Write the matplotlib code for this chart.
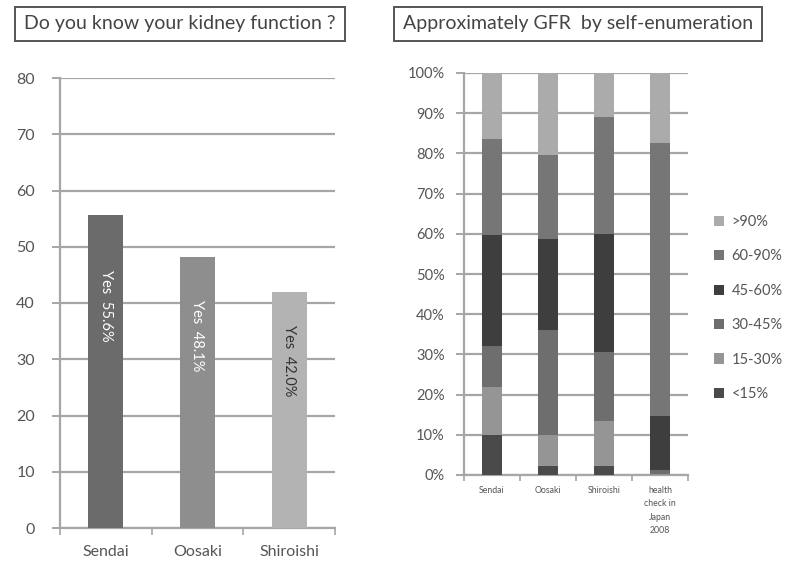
import matplotlib
matplotlib.use("Agg")
import matplotlib.pyplot as plt
import numpy as np

plt.rcParams['font.family'] = ['Lato', 'DejaVu Sans']

# ---- data ----
left_title = "Do you know your kidney function ?"
left_cats = ["Sendai", "Oosaki", "Shiroishi"]
left_vals = [55.6, 48.1, 42.0]
left_labels = ["Yes  55.6%", "Yes  48.1%", "Yes  42.0%"]
left_colors = ["#6b6b6b", "#8e8e8e", "#b3b3b3"]
left_text_colors = ["white", "white", "#333333"]

right_title = "Approximately GFR  by self-enumeration"
right_cats = ["Sendai", "Oosaki", "Shiroishi", "health\ncheck in\nJapan\n2008"]
gfr_bands = ["<15%", "15-30%", "30-45%", "45-60%", "60-90%", ">90%"]
gfr_lt15 = [10.0, 2.3, 2.3, 0.1]
gfr_15_30 = [12.0, 7.7, 11.2, 0.2]
gfr_30_45 = [10.0, 26.0, 17.0, 0.9]
gfr_45_60 = [27.7, 22.7, 29.5, 13.6]
gfr_60_90 = [23.8, 20.8, 29.0, 67.7]
gfr_gt90 = [16.5, 20.5, 11.0, 17.5]
gfr_colors = ["#4a4a4a", "#959595", "#6e6e6e", "#3e3e3e", "#767676", "#ababab"]

W, H = 795, 564
fig = plt.figure(figsize=(W / 100, H / 100), dpi=100)
fig.patch.set_facecolor("white")

def ax_rect(x0, y0, x1, y1):
    return [x0 / W, 1 - y1 / H, (x1 - x0) / W, (y1 - y0) / H]

grid_c = "#a6a6a6"
tick_c = "#555555"

# ---- left chart ----
axL = fig.add_axes(ax_rect(60, 78, 335, 528))
x = np.arange(len(left_cats))
axL.bar(x, left_vals, width=0.38, color=left_colors, zorder=3)
axL.set_xlim(-0.5, 2.5)
axL.set_ylim(0, 80)
axL.set_yticks(np.arange(0, 81, 10))
axL.yaxis.grid(True, color=grid_c, lw=1.6, zorder=0)
for s in ["top", "right"]:
    axL.spines[s].set_visible(False)
axL.spines["left"].set_color(grid_c)
axL.spines["left"].set_linewidth(1.6)
axL.spines["bottom"].set_color(grid_c)
axL.spines["bottom"].set_linewidth(1.6)
axL.tick_params(axis="y", length=6, color=grid_c, width=1.4, labelsize=11.5, labelcolor=tick_c, pad=12)
axL.set_xticks(x)
axL.set_xticklabels(left_cats, fontsize=11.5, color=tick_c)
axL.tick_params(axis="x", length=0, pad=12)
axL.set_xticks(np.arange(-0.5, 3, 1), minor=True)
axL.tick_params(axis="x", which="minor", length=5, color=grid_c, width=1.2)
for xi, v, lab, tc in zip(x, left_vals, left_labels, left_text_colors):
    axL.text(xi, v * 0.71, lab, rotation=270, ha="center", va="center",
             color=tc, fontsize=10.5, zorder=4)

# ---- right chart ----
axR = fig.add_axes(ax_rect(464, 73, 688, 475))
xr = np.arange(len(right_cats))
series = [gfr_lt15, gfr_15_30, gfr_30_45, gfr_45_60, gfr_60_90, gfr_gt90]
bottom = np.zeros(len(right_cats))
handles = []
for vals, col, lab in zip(series, gfr_colors, gfr_bands):
    vals = np.array(vals) / 100.0
    h = axR.bar(xr, vals, width=0.36, bottom=bottom, color=col, label=lab, zorder=3)
    handles.append(h)
    bottom += vals
axR.set_xlim(-0.5, 3.5)
axR.set_ylim(0, 1)
axR.set_yticks(np.arange(0, 1.01, 0.1))
axR.set_yticklabels([f"{int(round(t*100))}%" for t in np.arange(0, 1.01, 0.1)])
axR.yaxis.grid(True, color=grid_c, lw=1.6, zorder=0)
for s in ["top", "right"]:
    axR.spines[s].set_visible(False)
axR.spines["left"].set_color(grid_c)
axR.spines["left"].set_linewidth(1.6)
axR.spines["bottom"].set_color(grid_c)
axR.spines["bottom"].set_linewidth(1.6)
axR.tick_params(axis="y", length=6, color=grid_c, width=1.4, labelsize=10.5, labelcolor=tick_c, pad=8)
axR.set_xticks(xr)
axR.set_xticklabels(right_cats, fontsize=6.3, color=tick_c, linespacing=1.6, va="top")
axR.tick_params(axis="x", length=0, pad=8)
axR.set_xticks(np.arange(-0.5, 4, 1), minor=True)
axR.tick_params(axis="x", which="minor", length=4, color=grid_c, width=1.2)

leg = fig.legend(handles[::-1], gfr_bands[::-1], loc="center left",
                 bbox_to_anchor=(701 / W, 1 - 308 / H), frameon=False,
                 fontsize=10.5, handlelength=0.7, handleheight=0.7,
                 labelspacing=1.4, handletextpad=0.5, labelcolor=tick_c)

# ---- titles with boxes ----
box = dict(boxstyle="square,pad=0.45", fc="white", ec="#555555", lw=1.4)
fig.text(180 / W, 1 - 24 / H, left_title, ha="center", va="center",
         fontsize=14, color="#444444", bbox=box)
fig.text(578 / W, 1 - 24 / H, right_title, ha="center", va="center",
         fontsize=14, color="#444444", bbox=box)

fig.savefig("out.png", dpi=100, facecolor="white")
